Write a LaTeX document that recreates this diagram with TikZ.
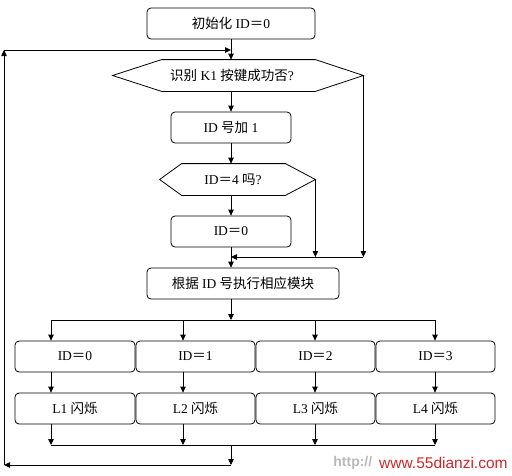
\documentclass[tikz,border=0pt]{standalone}
\usepackage{fontspec}
\setmainfont{Liberation Serif}
\newfontfamily\cjk{Noto Sans CJK SC}
\newfontfamily\wmfont{Liberation Sans}
\usetikzlibrary{arrows.meta}
\definecolor{wmred}{RGB}{205,40,40}
\begin{document}
\begin{tikzpicture}[x=1pt,y=-1pt, line width=0.8pt,
  >={Triangle[length=6pt,width=5.5pt]},
  txt/.style={font=\fontsize{13.5}{15}\selectfont, inner sep=0pt},
  box/.style={draw, rounded corners=4pt, minimum height=31pt, inner sep=0pt, font=\fontsize{13.5}{15}\selectfont},
  hexa/.style={minimum height=31pt, inner sep=0pt}]
\useasboundingbox (0,0) rectangle (512,475);

% main column
\node[box, minimum width=168pt] (init) at (231,23.5) {{\cjk 初始化} ID{\cjk ＝}0};
\node[hexa, minimum width=250pt] (d1) at (238,75.5) {};
\draw (d1.west) -- ([xshift=49pt]d1.north west) -- ([xshift=-48pt]d1.north east) -- (d1.east)
      -- ([xshift=-48pt]d1.south east) -- ([xshift=49pt]d1.south west) -- cycle;
\node[txt] (d1t) at (232,75.5) {{\cjk 识别} K1 {\cjk 按键成功否}?};
\node[box, minimum width=120pt] (inc) at (231,127.5) {ID {\cjk 号加} 1};
\node[hexa, minimum width=155pt] (d2) at (237.5,179.5) {};
\draw (d2.west) -- ([xshift=22pt]d2.north west) -- ([xshift=-30pt]d2.north east) -- (d2.east)
      -- ([xshift=-30pt]d2.south east) -- ([xshift=22pt]d2.south west) -- cycle;
\node[txt] (d2t) at (233,179.5) {ID{\cjk ＝}4 {\cjk 吗}?};
\node[box, minimum width=120pt] (zero) at (231,231.5) {ID{\cjk ＝}0};
\node[box, minimum width=192pt] (main) at (243,283.5) {{\cjk 根据} ID {\cjk 号执行相应模块}};

% row boxes
\node[box, minimum width=120pt] (a1) at (75,356.5) {ID{\cjk ＝}0};
\node[box, minimum width=119pt] (a2) at (195.5,356.5) {ID{\cjk ＝}1};
\node[box, minimum width=119pt] (a3) at (315.5,356.5) {ID{\cjk ＝}2};
\node[box, minimum width=119pt] (a4) at (435.5,356.5) {ID{\cjk ＝}3};
\node[box, minimum width=120pt] (b1) at (75,408.5) {L1 {\cjk 闪烁}};
\node[box, minimum width=119pt] (b2) at (195.5,408.5) {L2 {\cjk 闪烁}};
\node[box, minimum width=119pt] (b3) at (315.5,408.5) {L3 {\cjk 闪烁}};
\node[box, minimum width=119pt] (b4) at (435.5,408.5) {L4 {\cjk 闪烁}};

% coordinates
\coordinate (tl) at (4,50);
\coordinate (tj) at (231,50);
\coordinate (bl) at (4,465);
\coordinate (bj) at (231,465);
\coordinate (mj) at (231,257);
\coordinate (sj) at (231,320);
\coordinate (ej) at (231,445);
\coordinate (s1) at (51,320);
\coordinate (s2) at (183,320);
\coordinate (s3) at (315,320);
\coordinate (s4) at (435,320);
\coordinate (e1) at (51,445);
\coordinate (e2) at (183,445);
\coordinate (e3) at (315,445);
\coordinate (e4) at (435,445);

% connectors
\draw[->] (init.south) -- (init.south |- d1.north);
\draw[->] (init.south |- d1.south) -- (inc.north);
\draw[->] (inc.south) -- (inc.south |- d2.north);
\draw[->] (inc.south |- d2.south) -- (zero.north);
\draw[->] (zero.south) -- (zero.south |- main.north);
\draw[->] (d1.east) -- (d1.east |- mj);
\draw[->] (d2.east) -- (d2.east |- mj);
\draw[->] (d1.east |- mj) -- (mj);
\draw[->] (zero.south |- main.south) -- (sj);
\draw (s1) -- (s4);
\foreach \i in {1,2,3,4} {
  \draw[->] (s\i) -- (s\i |- a\i.north);
  \draw[->] (s\i |- a\i.south) -- (s\i |- b\i.north);
  \draw[->] (s\i |- b\i.south) -- (e\i);
}
\draw (e1) -- (e4);
\draw[->] (ej) -- (bj);
\draw[->] (bj) -- (bl);
\draw[->] (bl) -- (tl);
\draw[->] (tl) -- (tj);

% watermark
\node[anchor=west, inner sep=0pt, text=gray!55, font=\wmfont\bfseries\fontsize{14}{16}\selectfont] (wm1) at (333,463) {http://};
\node[anchor=east, inner sep=0pt, text=wmred, font=\wmfont\fontsize{15.5}{17}\selectfont] (wm2) at (508,463) {www.55dianzi.com};
\end{tikzpicture}
\end{document}
